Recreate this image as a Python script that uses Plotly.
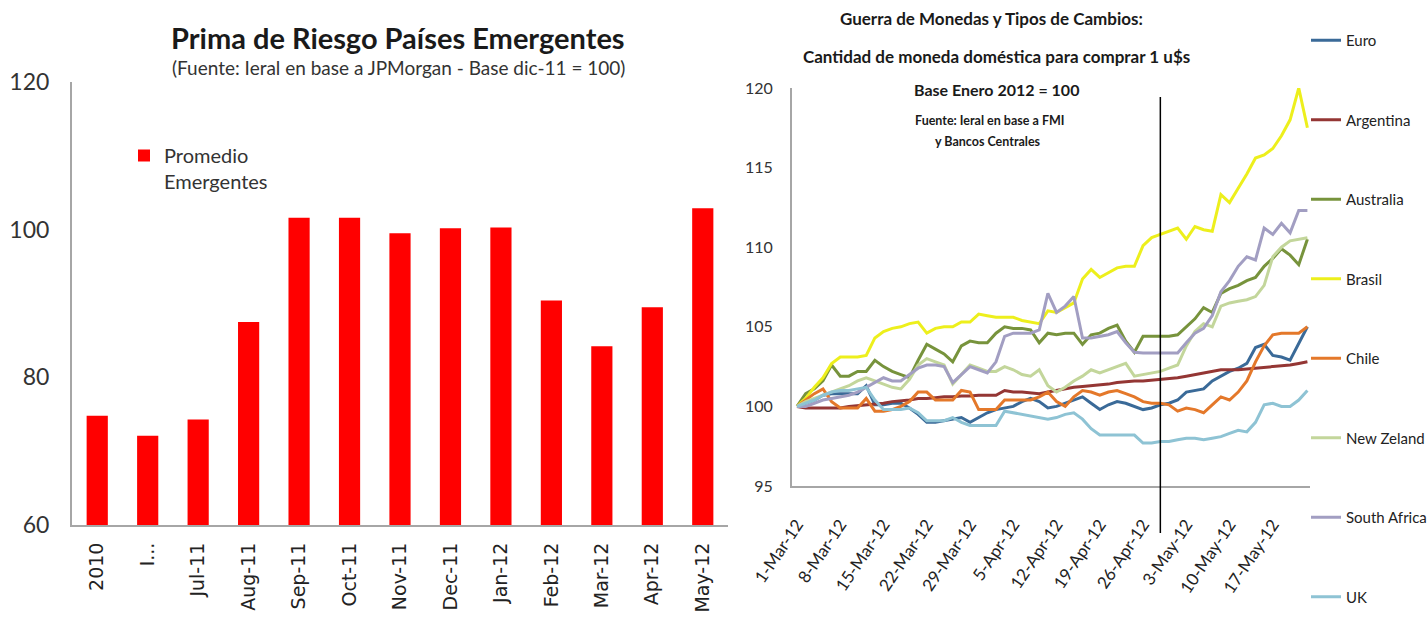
import pandas as pd
import plotly.graph_objects as go

# ---------------- left panel: emerging-market risk premium ----------------
risk_months = ["2010", "I...", "Jul-11", "Aug-11", "Sep-11", "Oct-11", "Nov-11",
               "Dec-11", "Jan-12", "Feb-12", "Mar-12", "Apr-12", "May-12"]
risk_values = [74.8, 72.1, 74.3, 87.5, 101.6, 101.6, 99.5, 100.2, 100.3, 90.4, 84.2, 89.5, 102.9]

# ---------------- right panel: currencies vs US dollar (business days) ----------------
fx_dates = [d.strftime("%Y-%m-%d") for d in pd.bdate_range("2012-03-01", periods=60)]
fx_tick_dates = ["2012-03-01", "2012-03-08", "2012-03-15", "2012-03-22", "2012-03-29", "2012-04-05",
                 "2012-04-12", "2012-04-19", "2012-04-26", "2012-05-03", "2012-05-10", "2012-05-17"]
fx_tick_text = ["1-Mar-12", "8-Mar-12", "15-Mar-12", "22-Mar-12", "29-Mar-12", "5-Apr-12",
                "12-Apr-12", "19-Apr-12", "26-Apr-12", "3-May-12", "10-May-12", "17-May-12"]
marker_date = "2012-04-30"

euro = [100.0, 100.2, 100.4, 100.7, 100.8, 100.8, 100.8, 100.8, 101.3, 100.1,
        100.1, 100.2, 100.2, 99.9, 99.5, 99.0, 99.0, 99.1, 99.2, 99.3,
        99.0, 99.3, 99.6, 99.8, 99.9, 100.0, 100.3, 100.5, 100.3, 99.9,
        100.0, 100.2, 100.4, 100.6, 100.2, 99.8, 100.1, 100.3, 100.2, 100.0,
        99.8, 99.9, 100.1, 100.2, 100.4, 100.9, 101.0, 101.1, 101.6, 101.9,
        102.2, 102.4, 102.7, 103.7, 103.9, 103.2, 103.1, 102.9, 104.0, 105.0]
argentina = [100.0, 99.9, 99.9, 99.9, 99.9, 99.9, 100.0, 100.05, 100.1, 100.15,
             100.2, 100.3, 100.35, 100.4, 100.5, 100.5, 100.55, 100.6, 100.6, 100.65,
             100.65, 100.7, 100.7, 100.7, 101.0, 100.9, 100.9, 100.85, 100.8, 100.9,
             101.0, 101.1, 101.2, 101.25, 101.3, 101.35, 101.4, 101.5, 101.55, 101.6,
             101.6, 101.65, 101.7, 101.75, 101.8, 101.9, 102.0, 102.1, 102.2, 102.3,
             102.3, 102.3, 102.35, 102.4, 102.45, 102.5, 102.55, 102.6, 102.7, 102.8]
australia = [100.0, 100.8, 101.1, 101.6, 102.6, 101.9, 101.9, 102.2, 102.2, 102.9,
             102.5, 102.2, 102.0, 101.8, 102.9, 103.9, 103.6, 103.3, 102.8, 103.8,
             104.1, 104.0, 104.0, 104.6, 105.0, 104.9, 104.9, 104.8, 104.0, 104.6,
             104.5, 104.6, 104.6, 103.9, 104.5, 104.6, 104.9, 105.1, 104.1, 103.4,
             104.4, 104.4, 104.4, 104.4, 104.5, 105.0, 105.5, 106.2, 105.9, 107.1,
             107.4, 107.6, 107.9, 108.1, 108.8, 109.3, 109.9, 109.5, 108.9, 110.5]
brasil = [100.0, 100.5, 101.2, 101.8, 102.7, 103.1, 103.1, 103.1, 103.2, 104.3,
          104.7, 104.9, 105.0, 105.2, 105.3, 104.6, 104.9, 105.0, 105.0, 105.3,
          105.3, 105.8, 105.7, 105.6, 105.6, 105.6, 105.4, 105.3, 105.2, 106.0,
          105.9, 106.2, 106.5, 108.0, 108.6, 108.1, 108.4, 108.7, 108.8, 108.8,
          110.1, 110.6, 110.8, 111.0, 111.2, 110.5, 111.3, 111.1, 111.0, 113.3,
          112.8, 113.7, 114.6, 115.6, 115.8, 116.2, 117.0, 118.0, 120.0, 117.5]
chile = [100.0, 100.4, 100.8, 101.1, 100.3, 99.9, 99.9, 99.9, 100.5, 99.7,
         99.7, 99.8, 100.0, 100.3, 100.9, 100.9, 100.4, 100.4, 100.4, 101.0,
         100.9, 99.8, 99.8, 99.8, 100.4, 100.4, 100.4, 100.4, 100.6, 100.9,
         100.3, 100.0, 100.6, 101.0, 100.9, 100.7, 100.9, 101.0, 100.8, 100.6,
         100.3, 100.2, 100.2, 100.1, 99.7, 99.9, 99.8, 99.6, 100.1, 100.6,
         100.4, 100.9, 101.6, 102.8, 103.8, 104.5, 104.6, 104.6, 104.6, 105.0]
new_zeland = [100.0, 100.3, 100.5, 100.7, 100.9, 101.1, 101.3, 101.6, 101.8, 101.6,
              101.4, 101.2, 101.1, 101.7, 102.6, 103.0, 102.8, 102.6, 101.4, 102.0,
              102.6, 102.4, 102.2, 102.2, 102.5, 102.3, 102.0, 101.9, 102.3, 101.3,
              100.9, 101.2, 101.6, 101.9, 102.3, 102.1, 102.3, 102.5, 102.7, 101.9,
              102.0, 102.1, 102.2, 102.4, 102.6, 103.8, 104.7, 105.2, 105.0, 106.3,
              106.5, 106.6, 106.7, 106.9, 107.6, 109.4, 110.0, 110.4, 110.5, 110.6]
south_africa = [100.0, 100.0, 100.2, 100.4, 100.5, 100.6, 100.7, 100.9, 101.2, 101.5,
                101.8, 101.6, 101.6, 102.0, 102.4, 102.6, 102.6, 102.5, 101.5, 102.0,
                102.5, 102.3, 102.1, 102.8, 104.4, 104.6, 104.6, 104.6, 104.8, 107.1,
                105.9, 106.3, 106.9, 104.3, 104.3, 104.4, 104.5, 104.7, 104.0, 103.4,
                103.35, 103.35, 103.35, 103.35, 103.35, 104.0, 104.6, 104.9, 105.7, 107.2,
                107.9, 108.8, 109.4, 109.2, 111.2, 110.8, 111.5, 110.9, 112.3, 112.3]
uk = [100.0, 100.2, 100.4, 100.7, 100.9, 101.0, 101.0, 101.1, 101.2, 100.4,
      99.8, 99.8, 99.8, 99.9, 99.6, 99.1, 99.1, 99.1, 99.3, 99.0,
      98.8, 98.8, 98.8, 98.8, 99.7, 99.6, 99.5, 99.4, 99.3, 99.2,
      99.3, 99.5, 99.6, 99.2, 98.6, 98.2, 98.2, 98.2, 98.2, 98.2,
      97.7, 97.7, 97.8, 97.8, 97.9, 98.0, 98.0, 97.9, 98.0, 98.1,
      98.3, 98.5, 98.4, 99.0, 100.1, 100.2, 100.0, 100.0, 100.4, 101.0]

fx_series = [
    ("Euro", euro, "#3A6A98"),
    ("Argentina", argentina, "#943634"),
    ("Australia", australia, "#77933C"),
    ("Brasil", brasil, "#EDEF1C"),
    ("Chile", chile, "#E4782A"),
    ("New Zeland", new_zeland, "#C3D69B"),
    ("South Africa", south_africa, "#A29EC2"),
    ("UK", uk, "#8EC3D4"),
]

W, H = 1427, 620
SANS = "Lato, Liberation Sans, sans-serif"
AXIS_GREY = "#A6A6A6"


def px_x(p):
    return p / W


def px_y(p):
    return (H - p) / H


fig = go.Figure()

fig.add_trace(go.Bar(
    x=risk_months, y=risk_values, name="Promedio<br>Emergentes",
    marker=dict(color="#FF0000", line=dict(width=0)), width=0.42,
    xaxis="x", yaxis="y", legend="legend2", showlegend=True,
))

for i, (name, vals, color) in enumerate(fx_series):
    fig.add_trace(go.Scatter(
        x=fx_dates, y=vals, name=name, mode="lines",
        line=dict(color=color, width=3), xaxis="x2", yaxis="y2",
        legend="legend", legendgroup=f"g{i}",
    ))

fig.add_shape(type="line", xref="x2", yref="paper",
              x0=marker_date, x1=marker_date, y0=px_y(533), y1=px_y(97),
              line=dict(color="black", width=1.5))

annotations = [
    dict(text="<b>Prima de Riesgo Países Emergentes</b>", x=px_x(398), y=px_y(38),
         font=dict(family=SANS, size=29, color="#1a1a1a")),
    dict(text="(Fuente: Ieral en base a JPMorgan - Base dic-11 = 100)", x=px_x(398), y=px_y(68),
         font=dict(family=SANS, size=19, color="#333333")),
    dict(text="<b>Guerra de Monedas y Tipos de Cambios:</b>", x=px_x(991), y=px_y(18),
         font=dict(family=SANS, size=17, color="#1a1a1a")),
    dict(text="<b>Cantidad de moneda doméstica para comprar 1 u$s</b>", x=px_x(996), y=px_y(56),
         font=dict(family=SANS, size=17, color="#1a1a1a")),
    dict(text="<b>Base Enero 2012 = 100</b>", x=px_x(996), y=px_y(90),
         font=dict(family=SANS, size=16, color="#1a1a1a")),
    dict(text="<b>Fuente: Ieral en base a FMI</b>", x=px_x(990), y=px_y(120),
         font=dict(family=SANS, size=12.5, color="#1a1a1a")),
    dict(text="<b>y Bancos Centrales</b>", x=px_x(988), y=px_y(142),
         font=dict(family=SANS, size=12.5, color="#1a1a1a")),
]
for a in annotations:
    a.update(xref="paper", yref="paper", xanchor="center", yanchor="middle", showarrow=False)

fig.update_layout(
    width=W, height=H, margin=dict(l=0, r=0, t=0, b=0, autoexpand=False),
    paper_bgcolor="white", plot_bgcolor="white",
    annotations=annotations,
    xaxis=dict(domain=[px_x(72), px_x(728)], type="category", tickangle=-90,
               tickfont=dict(family="DejaVu Sans", size=19, color="#222222"),
               showline=True, linecolor=AXIS_GREY, linewidth=2, ticks="",
               showgrid=False, zeroline=False, anchor="y", ticklabelstandoff=8,
               automargin=False),
    yaxis=dict(domain=[px_y(525), px_y(82)], range=[60, 120], dtick=20,
               tickfont=dict(family=SANS, size=23, color="#333333"),
               showline=True, linecolor=AXIS_GREY, linewidth=2, ticks="",
               showgrid=False, zeroline=False, anchor="x", ticklabelstandoff=16,
               automargin=False),
    xaxis2=dict(domain=[px_x(792), px_x(1310)], type="category",
                categoryorder="array", categoryarray=fx_dates,
                range=[-0.58, 59.3], tickmode="array", tickvals=fx_tick_dates,
                ticktext=fx_tick_text, tickangle=-56,
                tickfont=dict(family=SANS, size=17, color="#222222"),
                showline=True, linecolor=AXIS_GREY, linewidth=2, ticks="",
                showgrid=False, zeroline=False, anchor="y2", ticklabelstandoff=20,
                automargin=False),
    yaxis2=dict(domain=[px_y(486), px_y(88)], range=[95, 120], dtick=5,
                tickfont=dict(family=SANS, size=16, color="#333333"),
                showline=True, linecolor=AXIS_GREY, linewidth=2, ticks="",
                showgrid=False, zeroline=False, anchor="x2", ticklabelstandoff=14,
                automargin=False),
    legend=dict(x=px_x(1306), y=px_y(24), xanchor="left", yanchor="top",
                font=dict(family=SANS, size=15, color="#222222"),
                tracegroupgap=57, bgcolor="rgba(0,0,0,0)", itemwidth=30),
    legend2=dict(x=px_x(124), y=px_y(136), xanchor="left", yanchor="top",
                 font=dict(family=SANS, size=20, color="#333333"),
                 valign="top", bgcolor="rgba(0,0,0,0)", itemwidth=30),
    showlegend=True,
)

fig.write_html("out.html")
